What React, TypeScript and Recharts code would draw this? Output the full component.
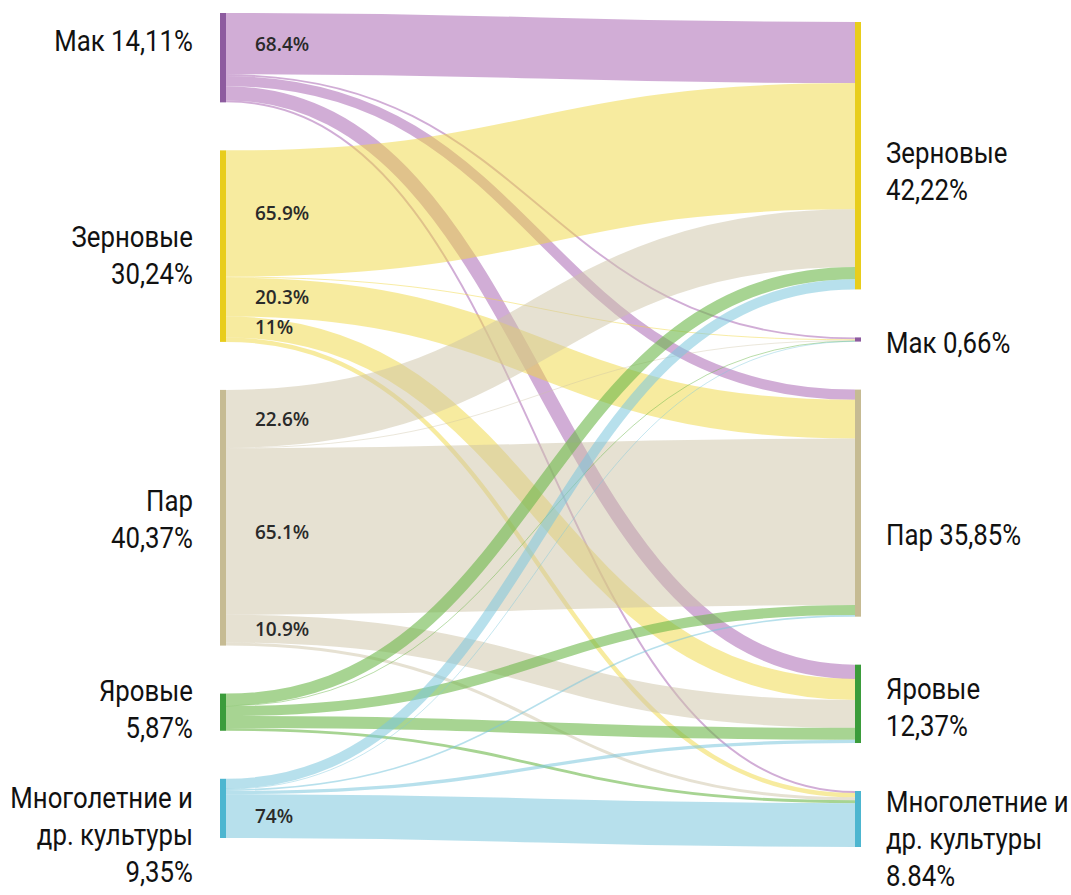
import React from 'react';
import { Sankey } from 'recharts';

// Categories (left = previous year, right = next year)
const categories = ['Мак', 'Зерновые', 'Пар', 'Яровые', 'Многолетние и др. культуры'];
const leftOrder = [0, 1, 2, 3, 4];
const rightOrder = [1, 0, 2, 3, 4];

const leftLabels = [
  ['Мак 14,11%'],
  ['Зерновые', '30,24%'],
  ['Пар', '40,37%'],
  ['Яровые', '5,87%'],
  ['Многолетние и', 'др. культуры', '9,35%'],
];
const rightLabels = [
  ['Зерновые', '42,22%'],
  ['Мак 0,66%'],
  ['Пар 35,85%'],
  ['Яровые', '12,37%'],
  ['Многолетние и', 'др. культуры', '8.84%'],
];

// flows from each left node to right nodes (Зерновые, Мак, Пар, Яровые, Многолетние)
const fromMak = [9.65, 0.3, 1.6, 2.25, 0.31];
const fromZern = [19.93, 0.15, 6.14, 3.33, 0.69];
const fromPar = [9.12, 0.1, 26.28, 4.4, 0.47];
const fromYar = [1.92, 0.05, 1.58, 1.87, 0.45];
const fromMnog = [1.6, 0.06, 0.25, 0.52, 6.92];
const flows = [fromMak, fromZern, fromPar, fromYar, fromMnog];

const nodeColors = ['#8d5b9f', '#e8cd1c', '#c6bb93', '#3b9c3b', '#4db6d0'];
const linkColors = ['#b57bbd', '#f0d840', '#cdc3a5', '#6cb84a', '#7cc7dc'];
const linkOpacity = [0.62, 0.5, 0.5, 0.6, 0.55];

const leftLabelShift = [-17, 9, 2, -3, 26];
const rightLabelShift = [16, 3, 32, 3, 20];
const RIGHT_COL_SHIFT = 9;
const LINE_H = 37;
const LABEL_MIN = 3;

const nodes = [
  ...leftOrder.map((c, i) => ({ name: categories[c], cat: c, side: 0, pos: i })),
  ...rightOrder.map((c, i) => ({ name: categories[c], cat: c, side: 1, pos: i })),
];
const links: { source: number; target: number; value: number }[] = [];
flows.forEach((row, i) => {
  row.forEach((v, j) => {
    links.push({ source: i, target: leftOrder.length + j, value: v });
  });
});

const fmtPct = (p: number) => {
  let s = p.toFixed(1);
  if (s.endsWith('.0')) s = s.slice(0, -2);
  return s + '%';
};

const NodeShape = (props: any) => {
  const { x, width, height, payload } = props;
  const side = payload.side;
  const y = props.y + (side === 1 ? RIGHT_COL_SHIFT : 0);
  const lines = side === 0 ? leftLabels[payload.pos] : rightLabels[payload.pos];
  const shift = side === 0 ? leftLabelShift[payload.pos] : rightLabelShift[payload.pos];
  const cy = y + height / 2 + shift;
  const tx = side === 0 ? x - 27 : x + width + 25;
  return (
    <g>
      <rect x={x} y={y} width={width} height={Math.max(height, 3)} fill={nodeColors[payload.cat]} />
      {lines.map((t: string, i: number) => {
        const ly = cy + (i - (lines.length - 1) / 2) * LINE_H;
        return (
          <text
            key={i}
            transform={`translate(${tx},${ly}) scale(0.86,1)`}
            textAnchor={side === 0 ? 'end' : 'start'}
            dominantBaseline="central"
            fontSize={30}
            fontFamily="Roboto, 'Liberation Sans', sans-serif"
            fill="#111"
          >
            {t}
          </text>
        );
      })}
    </g>
  );
};

const LinkShape = (props: any) => {
  const { sourceX, sourceY, targetX, sourceControlX, targetControlX, linkWidth, payload } = props;
  const targetY = props.targetY + RIGHT_COL_SHIFT;
  const src = payload.source;
  const cat = src.cat;
  const pct = (payload.value / src.value) * 100;
  return (
    <g>
      <path
        d={`M${sourceX},${sourceY} C${sourceControlX},${sourceY} ${targetControlX},${targetY} ${targetX},${targetY}`}
        fill="none"
        stroke={linkColors[cat]}
        strokeOpacity={linkOpacity[cat]}
        strokeWidth={Math.max(linkWidth, 0.8)}
      />
      {payload.value >= LABEL_MIN && (
        <text
          x={sourceX + 29}
          y={sourceY}
          dominantBaseline="central"
          fontSize={19}
          fontWeight={600}
          fontFamily="'Open Sans', sans-serif"
          fill="#2a2a2a"
        >
          {fmtPct(pct)}
        </text>
      )}
    </g>
  );
};

export default function App() {
  return (
    <div style={{ position: 'absolute', left: 0, top: 0, width: 1071, height: 895, background: '#fff' }}>
      <Sankey
        width={1071}
        height={895}
        data={{ nodes, links }}
        nodeWidth={6}
        nodePadding={48}
        iterations={0}
        sort={false}
        linkCurvature={0.5}
        margin={{ top: 13, bottom: 57, left: 220, right: 210 }}
        node={(p: any) => <NodeShape {...p} />}
        link={(p: any) => <LinkShape {...p} />}
      />
    </div>
  );
}
